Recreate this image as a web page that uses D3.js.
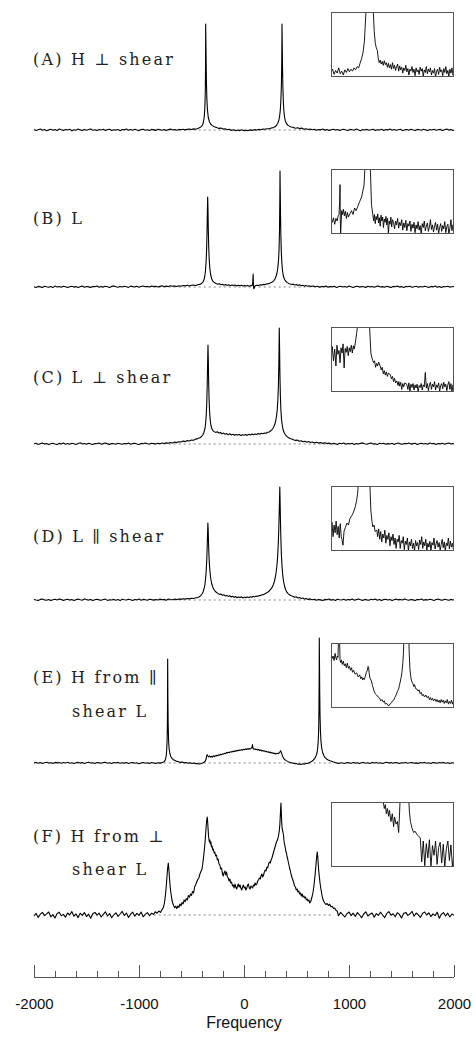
<!DOCTYPE html>
<html><head><meta charset="utf-8">
<script src="https://cdn.jsdelivr.net/npm/d3@7"></script>
<style>
html,body{margin:0;padding:0;background:#fff;}
svg{display:block;}
</style></head><body>
<svg id="chart" width="476" height="1045"></svg>
<script>
// ---- Spectra: [frequency, intensity (a.u.)] ----
const specA = [[-2000,0.4],[-1980,-0.5],[-1960,0.2],[-1940,0.9],[-1920,-0.3],[-1900,0.5],[-1880,-0.8],[-1860,0.1],[-1840,0.7],[-1820,-0.2],[-1800,0.4],[-1780,-0.6],[-1760,1.0],[-1740,0.2],[-1720,-0.4],[-1700,0.6],[-1680,-0.1],[-1660,0.8],[-1640,-0.7],[-1620,0.3],[-1600,-0.2],[-1580,0.9],[-1560,0.1],[-1540,-0.5],[-1520,0.6],[-1500,-0.3],[-1480,0.4],[-1460,1.1],[-1440,-0.2],[-1420,0.3],[-1400,-0.6],[-1380,0.5],[-1360,0.0],[-1340,0.8],[-1320,-0.4],[-1300,0.2],[-1280,0.7],[-1260,-0.5],[-1240,0.3],[-1220,-0.1],[-1200,0.6],[-1180,-0.7],[-1160,0.4],[-1140,0.1],[-1120,0.9],[-1100,-0.3],[-1080,0.5],[-1060,-0.2],[-1040,0.7],[-1020,0.0],[-1000,-0.6],[-980,0.4],[-960,0.8],[-940,-0.3],[-920,0.2],[-900,-0.5],[-880,0.6],[-860,0.1],[-840,-0.4],[-820,0.7],[-800,0.3],[-780,-0.2],[-760,0.5],[-740,-0.6],[-720,0.4],[-700,0.9],[-680,0.0],[-660,0.5],[-640,-0.3],[-620,0.6],[-600,0.2],[-580,0.8],[-560,0.1],[-540,0.6],[-520,1.0],[-500,0.5],[-480,1.1],[-460,0.8],[-440,1.6],[-420,2.4],[-405,3.6],[-395,5],[-387,7.5],[-380,12],[-375,18],[-371,28],[-368,42],[-366,70],[-365,106],[-363,90],[-360,64],[-357,44],[-353,30],[-348,20],[-340,12.5],[-330,8.5],[-318,6],[-305,4.6],[-290,3.6],[-275,3.0],[-260,2.4],[-240,1.6],[-220,1.9],[-200,0.9],[-180,1.2],[-160,0.3],[-140,0.7],[-120,-0.4],[-100,0.2],[-80,-0.7],[-60,0.0],[-40,-0.6],[-20,0.3],[0,-0.8],[20,-0.2],[40,-0.6],[60,0.1],[80,-0.4],[100,0.4],[120,-0.1],[140,0.6],[160,0.3],[180,1.0],[200,0.7],[220,1.3],[240,1.2],[260,2.0],[280,2.4],[295,3.2],[308,4.5],[320,6.5],[330,9],[338,13],[345,19],[350,27],[354,38],[357,50],[360,72],[362,106],[364,88],[367,62],[370,44],[374,30],[379,20],[386,13],[395,8.5],[407,6],[420,4.6],[435,3.6],[450,3.0],[470,2.6],[490,1.8],[510,2.2],[530,1.4],[550,1.9],[570,0.8],[590,1.3],[610,0.5],[630,1.0],[650,0.2],[670,0.8],[690,-0.3],[710,0.5],[730,0.1],[750,0.9],[770,-0.2],[790,0.4],[810,-0.6],[830,0.3],[850,0.7],[870,-0.1],[890,0.5],[910,-0.4],[930,0.2],[950,0.8],[970,0.0],[990,-0.5],[1010,0.6],[1030,0.2],[1050,-0.3],[1070,0.9],[1090,0.1],[1110,-0.7],[1130,0.4],[1150,0.0],[1170,0.6],[1190,-0.2],[1210,0.3],[1230,0.8],[1250,-0.4],[1270,0.2],[1290,-0.1],[1310,0.7],[1330,-0.5],[1350,0.4],[1370,0.1],[1390,0.9],[1410,-0.3],[1430,0.5],[1450,-0.2],[1470,0.3],[1490,0.8],[1510,-0.6],[1530,0.1],[1550,0.5],[1570,-0.2],[1590,0.7],[1610,0.0],[1630,-0.4],[1650,0.6],[1670,0.2],[1690,-0.3],[1710,0.8],[1730,0.1],[1750,-0.5],[1770,0.4],[1790,0.0],[1810,0.7],[1830,-0.3],[1850,0.2],[1870,0.6],[1890,-0.4],[1910,0.3],[1930,0.9],[1950,-0.1],[1970,0.4],[1990,-0.5],[2000,0.1]];

const specB = [[-2000,0.3],[-1980,-0.4],[-1960,0.6],[-1940,0.1],[-1920,-0.5],[-1900,0.8],[-1880,0.2],[-1860,-0.2],[-1840,0.5],[-1820,-0.6],[-1800,0.9],[-1780,0.0],[-1760,0.4],[-1740,-0.3],[-1720,0.7],[-1700,0.2],[-1680,-0.6],[-1660,0.3],[-1640,0.8],[-1620,-0.1],[-1600,0.4],[-1580,-0.5],[-1560,0.2],[-1540,0.9],[-1520,-0.2],[-1500,0.5],[-1480,0.1],[-1460,-0.4],[-1440,0.6],[-1420,0.2],[-1400,1.0],[-1380,-0.3],[-1360,0.4],[-1340,-0.1],[-1320,0.7],[-1300,0.3],[-1280,-0.5],[-1260,0.6],[-1240,1.1],[-1220,0.2],[-1200,-0.2],[-1180,0.5],[-1160,0.0],[-1140,0.8],[-1120,0.3],[-1100,-0.4],[-1080,0.9],[-1060,0.4],[-1040,0.1],[-1020,0.7],[-1000,-0.3],[-980,0.5],[-960,1.0],[-940,0.2],[-920,0.6],[-900,-0.1],[-880,1.1],[-860,0.4],[-840,0.8],[-820,0.0],[-800,0.6],[-780,1.2],[-760,0.3],[-740,0.9],[-720,0.5],[-700,1.3],[-680,0.7],[-660,1.1],[-640,0.4],[-620,1.2],[-600,0.8],[-580,1.5],[-560,1.1],[-540,1.8],[-520,1.0],[-500,1.7],[-480,2.0],[-460,1.5],[-440,2.3],[-420,2.6],[-405,3.4],[-392,4.8],[-382,7],[-374,10.5],[-367,16],[-361,25],[-356,38],[-352,55],[-349,75],[-346,90],[-343,78],[-340,58],[-336,40],[-331,27],[-325,18],[-317,12],[-307,8],[-295,5.6],[-280,4.2],[-265,3.4],[-250,2.8],[-235,3.2],[-220,2.2],[-205,2.7],[-190,1.8],[-175,2.4],[-160,1.6],[-145,2.2],[-130,1.3],[-115,2.0],[-100,1.4],[-85,1.9],[-70,1.1],[-55,1.8],[-40,1.2],[-25,1.7],[-10,0.9],[5,1.6],[20,1.0],[35,1.5],[50,0.8],[65,1.6],[75,1.2],[82,2.5],[85,9],[87,13],[89,6],[91,0],[93,-1.8],[96,-1.4],[100,0.6],[110,1.4],[125,1.8],[140,1.4],[155,2.3],[170,1.9],[185,2.6],[200,2.4],[215,3.1],[230,3.0],[245,3.8],[260,4.4],[272,5.2],[284,6.4],[295,8],[305,10.5],[314,14],[322,19],[329,27],[334,38],[338,56],[341,85],[343,116],[345,98],[348,72],[351,52],[355,36],[360,25],[366,17],[374,11.5],[384,8],[396,6],[410,4.6],[425,3.6],[440,3.0],[455,2.5],[470,2.9],[485,1.9],[500,2.4],[515,1.6],[530,2.2],[545,1.3],[560,1.8],[575,0.9],[590,1.5],[605,0.8],[620,1.3],[640,0.6],[660,1.0],[680,0.3],[700,0.8],[720,-0.2],[740,0.6],[760,0.2],[780,0.9],[800,-0.3],[820,0.5],[840,0.1],[860,0.7],[880,-0.4],[900,0.3],[920,0.8],[940,0.0],[960,0.5],[980,-0.2],[1000,0.9],[1020,0.2],[1040,-0.5],[1060,0.4],[1080,0.7],[1100,-0.1],[1120,0.5],[1140,0.2],[1160,-0.4],[1180,0.8],[1200,0.1],[1220,0.5],[1240,-0.3],[1260,0.6],[1280,1.0],[1300,0.0],[1320,0.4],[1340,-0.2],[1360,0.7],[1380,0.1],[1400,-0.5],[1420,0.6],[1440,0.3],[1460,0.9],[1480,-0.1],[1500,0.4],[1520,-0.4],[1540,0.6],[1560,0.2],[1580,0.8],[1600,-0.2],[1620,0.3],[1640,0.7],[1660,-0.3],[1680,0.5],[1700,0.0],[1720,0.8],[1740,0.3],[1760,-0.4],[1780,0.6],[1800,0.1],[1820,0.9],[1840,-0.2],[1860,0.4],[1880,-0.6],[1900,0.5],[1920,0.2],[1940,0.8],[1960,-0.1],[1980,0.3],[2000,0.5]];

const specC = [[-2000,0.2],[-1980,0.7],[-1960,-0.4],[-1940,0.3],[-1920,0.9],[-1900,-0.1],[-1880,0.5],[-1860,-0.6],[-1840,0.2],[-1820,0.8],[-1800,0.0],[-1780,-0.4],[-1760,0.6],[-1740,0.1],[-1720,1.0],[-1700,-0.3],[-1680,0.4],[-1660,-0.2],[-1640,0.7],[-1620,0.2],[-1600,-0.5],[-1580,0.5],[-1560,1.2],[-1540,0.0],[-1520,0.4],[-1500,-0.3],[-1480,0.8],[-1460,0.1],[-1440,-0.6],[-1420,0.5],[-1400,0.2],[-1380,0.9],[-1360,-0.2],[-1340,0.4],[-1320,1.0],[-1300,0.1],[-1280,-0.4],[-1260,0.6],[-1240,0.2],[-1220,-0.3],[-1200,0.8],[-1180,0.3],[-1160,-0.2],[-1140,0.5],[-1120,0.1],[-1100,0.9],[-1080,-0.3],[-1060,0.4],[-1040,0.7],[-1020,0.0],[-1000,-0.5],[-980,0.6],[-960,0.2],[-940,0.9],[-920,0.3],[-900,-0.1],[-880,0.8],[-860,0.4],[-840,0.0],[-820,0.7],[-800,0.3],[-780,1.0],[-760,0.5],[-740,1.1],[-720,0.8],[-700,1.5],[-680,1.0],[-660,1.9],[-640,1.4],[-620,2.3],[-600,2.0],[-580,2.9],[-560,2.4],[-540,3.4],[-520,3.0],[-500,4.0],[-480,3.8],[-460,4.9],[-440,5.4],[-420,6.2],[-405,7.5],[-393,9],[-382,11.5],[-373,15],[-366,20],[-360,28],[-355,40],[-351,56],[-347,78],[-343,99],[-340,85],[-337,64],[-333,46],[-328,33],[-322,24],[-314,18],[-305,15],[-295,13.2],[-283,12.4],[-270,11.6],[-255,12.2],[-240,11.0],[-225,11.5],[-210,10.3],[-195,10.9],[-180,9.8],[-165,10.4],[-150,9.3],[-135,10.2],[-120,9.0],[-105,9.7],[-90,8.7],[-75,9.6],[-60,8.9],[-45,9.4],[-30,8.5],[-15,9.3],[0,8.8],[15,9.5],[30,8.6],[45,9.8],[60,9.1],[75,10.0],[90,9.2],[105,10.1],[120,9.6],[135,10.5],[150,9.8],[165,10.7],[180,10.2],[195,11.0],[210,10.8],[225,11.8],[240,12.0],[252,13.0],[264,14.2],[275,15.5],[285,17.5],[294,20],[302,23],[310,28],[317,35],[323,45],[328,60],[332,82],[336,116],[339,95],[342,70],[346,50],[351,35],[357,25],[364,19],[372,14.5],[382,11.5],[394,9.2],[408,7.6],[422,6.4],[438,5.5],[455,4.9],[472,4.2],[490,3.6],[508,3.9],[526,2.8],[544,3.3],[562,2.2],[580,2.8],[598,1.8],[616,2.4],[634,1.4],[652,2.0],[670,1.1],[690,1.7],[710,0.9],[730,1.5],[750,0.6],[770,1.2],[790,0.4],[810,0.9],[830,-0.1],[850,0.6],[870,0.2],[890,-0.4],[910,0.7],[930,0.3],[950,1.0],[970,-0.2],[990,0.5],[1010,0.1],[1030,0.8],[1050,-0.5],[1070,0.4],[1090,0.0],[1110,0.6],[1130,1.1],[1150,0.2],[1170,-0.3],[1190,0.5],[1210,0.9],[1230,-0.1],[1250,0.3],[1270,-0.6],[1290,0.7],[1310,0.2],[1330,0.8],[1350,-0.2],[1370,0.4],[1390,0.0],[1410,0.7],[1430,-0.4],[1450,0.5],[1470,1.0],[1490,0.1],[1510,-0.3],[1530,0.6],[1550,0.2],[1570,0.9],[1590,-0.1],[1610,0.4],[1630,0.8],[1650,-0.5],[1670,0.3],[1690,0.7],[1710,0.0],[1730,0.5],[1750,-0.3],[1770,0.9],[1790,0.2],[1810,0.6],[1830,-0.4],[1850,0.4],[1870,0.1],[1890,0.8],[1910,-0.2],[1930,0.5],[1950,0.9],[1970,0.0],[1990,0.4],[2000,-0.1]];

const specD = [[-2000,0.5],[-1980,0.0],[-1960,-0.4],[-1940,0.6],[-1920,0.9],[-1900,0.1],[-1880,-0.3],[-1860,0.5],[-1840,-0.6],[-1820,0.3],[-1800,0.7],[-1780,0.0],[-1760,1.0],[-1740,0.4],[-1720,-0.4],[-1700,0.2],[-1680,0.8],[-1660,-0.1],[-1640,0.5],[-1620,-0.5],[-1600,0.3],[-1580,0.9],[-1560,0.2],[-1540,-0.3],[-1520,1.1],[-1500,0.4],[-1480,-0.1],[-1460,0.6],[-1440,-0.6],[-1420,0.2],[-1400,0.7],[-1380,0.1],[-1360,-0.2],[-1340,0.5],[-1320,0.9],[-1300,-0.4],[-1280,0.3],[-1260,0.0],[-1240,0.6],[-1220,-0.3],[-1200,0.4],[-1180,-0.6],[-1160,0.7],[-1140,0.2],[-1120,0.0],[-1100,0.8],[-1080,0.3],[-1060,-0.4],[-1040,0.5],[-1020,0.1],[-1000,0.9],[-980,-0.2],[-960,0.6],[-940,0.2],[-920,-0.3],[-900,0.7],[-880,0.4],[-860,-0.1],[-840,0.5],[-820,0.0],[-800,0.9],[-780,0.3],[-760,0.6],[-740,-0.2],[-720,1.0],[-700,0.5],[-680,0.2],[-660,0.9],[-640,0.4],[-620,1.1],[-600,0.6],[-580,1.2],[-560,0.9],[-540,1.5],[-520,1.1],[-500,1.7],[-480,1.5],[-460,2.2],[-440,2.4],[-425,3.2],[-412,4.4],[-400,6],[-390,8],[-381,11],[-373,15],[-366,21],[-360,29],[-355,39],[-351,52],[-347,66],[-344,77],[-341,70],[-338,58],[-334,45],[-329,35],[-323,27],[-316,21],[-308,16.5],[-298,13],[-287,10.5],[-275,8.8],[-262,7.5],[-248,6.6],[-234,5.6],[-220,6.0],[-206,4.8],[-192,5.2],[-178,4.1],[-164,4.6],[-150,3.6],[-136,4.2],[-122,3.0],[-108,3.8],[-94,2.6],[-80,3.4],[-66,2.2],[-52,3.1],[-38,2.4],[-24,3.2],[-10,2.0],[4,2.9],[18,2.2],[32,3.1],[46,2.4],[60,3.3],[74,2.8],[88,3.7],[102,3.1],[116,4.0],[130,3.6],[144,4.5],[158,4.4],[172,5.2],[186,5.4],[200,6.3],[214,7.0],[228,8.0],[242,9.2],[255,10.8],[267,12.6],[278,15],[288,18],[297,22],[305,27],[313,34],[320,43],[326,55],[331,70],[335,86],[338,100],[341,113],[344,98],[347,80],[351,62],[356,46],[362,34],[369,25],[377,18.5],[386,14],[396,10.5],[407,8.2],[420,6.4],[434,5.2],[449,4.2],[465,3.8],[481,2.8],[497,3.2],[513,2.0],[529,2.6],[545,1.4],[561,2.0],[577,0.9],[593,1.6],[610,0.6],[630,1.1],[650,0.3],[670,0.8],[690,-0.2],[710,0.5],[730,0.1],[750,-0.5],[770,0.6],[790,0.2],[810,0.9],[830,-0.1],[850,0.4],[870,-0.4],[890,0.7],[910,0.2],[930,0.0],[950,0.8],[970,-0.3],[990,0.5],[1010,0.1],[1030,0.9],[1050,-0.2],[1070,0.4],[1090,1.0],[1110,0.2],[1130,-0.4],[1150,0.6],[1170,0.1],[1190,-0.3],[1210,0.7],[1230,0.3],[1250,0.9],[1270,-0.2],[1290,0.5],[1310,-0.6],[1330,0.4],[1350,0.8],[1370,0.0],[1390,0.5],[1410,-0.4],[1430,0.3],[1450,0.9],[1470,0.1],[1490,0.6],[1510,-0.1],[1530,1.0],[1550,0.3],[1570,-0.3],[1590,0.5],[1610,0.1],[1630,-0.5],[1650,0.6],[1670,0.2],[1690,0.9],[1710,-0.2],[1730,0.4],[1750,0.0],[1770,0.8],[1790,0.3],[1810,-0.4],[1830,0.5],[1850,0.9],[1870,0.1],[1890,-0.2],[1910,0.7],[1930,0.3],[1950,-0.3],[1970,0.6],[1990,0.0],[2000,0.3]];

const specE = [[-2000,0.1],[-1980,0.6],[-1960,-0.2],[-1940,0.4],[-1920,-0.5],[-1900,0.3],[-1880,0.7],[-1860,-0.1],[-1840,0.2],[-1820,-0.4],[-1800,0.6],[-1780,0.1],[-1760,0.4],[-1740,-0.3],[-1720,0.5],[-1700,0.0],[-1680,0.7],[-1660,-0.2],[-1640,0.3],[-1620,-0.6],[-1600,0.2],[-1580,0.6],[-1560,-0.1],[-1540,0.4],[-1520,-0.4],[-1500,0.3],[-1480,0.8],[-1460,0.0],[-1440,0.3],[-1420,-0.5],[-1400,0.5],[-1380,0.1],[-1360,-0.3],[-1340,0.4],[-1320,0.7],[-1300,-0.2],[-1280,0.2],[-1260,-0.5],[-1240,0.4],[-1220,0.0],[-1200,0.6],[-1180,-0.3],[-1160,0.3],[-1140,-0.1],[-1120,0.5],[-1100,-0.6],[-1080,0.2],[-1060,0.4],[-1040,-0.2],[-1020,0.3],[-1000,-0.7],[-980,0.1],[-960,0.5],[-940,-0.3],[-920,0.2],[-900,-0.4],[-880,0.4],[-860,0.0],[-840,-0.5],[-820,0.3],[-800,-0.1],[-780,0.4],[-765,0.9],[-755,2],[-747,3.8],[-741,7],[-736,13],[-732,24],[-729,45],[-727,104],[-725,66],[-722,38],[-718,22],[-713,14],[-706,9.5],[-697,6.5],[-686,4.6],[-672,3.2],[-656,2.4],[-640,1.6],[-622,1.3],[-604,0.6],[-586,0.9],[-568,0.1],[-550,0.5],[-532,-0.3],[-514,0.2],[-496,-0.5],[-478,0.0],[-460,-0.8],[-442,-0.4],[-424,-1.0],[-406,-0.5],[-390,0.3],[-378,1.0],[-368,2.0],[-360,4.5],[-355,7.5],[-350,8.2],[-344,7.0],[-337,6.2],[-329,7.0],[-320,5.8],[-311,6.6],[-302,5.9],[-293,7.2],[-284,6.4],[-275,7.4],[-266,6.8],[-257,7.9],[-248,7.3],[-239,8.3],[-230,7.9],[-221,8.8],[-212,8.3],[-203,9.2],[-194,8.9],[-185,9.7],[-176,9.4],[-167,10.4],[-158,10.0],[-149,10.8],[-140,10.3],[-131,11.2],[-122,10.8],[-113,11.6],[-104,11.2],[-95,12.0],[-86,11.5],[-77,12.4],[-68,12.0],[-59,12.8],[-50,12.3],[-41,13.1],[-32,12.7],[-23,13.4],[-14,12.9],[-5,13.7],[4,13.2],[13,14.0],[22,13.5],[31,14.3],[40,13.8],[49,14.5],[58,13.9],[67,14.6],[74,15.2],[78,17],[81,18.5],[84,15.5],[88,14.3],[96,13.6],[105,14.2],[114,13.3],[123,13.8],[132,12.9],[141,13.4],[150,12.5],[159,13.0],[168,12.1],[177,12.6],[186,11.8],[195,12.2],[204,11.3],[213,11.8],[222,10.9],[231,11.3],[240,10.4],[249,10.9],[258,10.0],[267,10.4],[276,9.6],[285,10.0],[294,9.1],[303,9.6],[312,9.2],[320,9.8],[328,9.4],[335,10.2],[342,11.0],[348,12.2],[353,11.3],[358,9.8],[364,7.8],[371,6.0],[380,4.4],[390,3.2],[402,2.4],[415,1.6],[428,1.0],[442,0.5],[456,0.1],[470,-0.3],[485,-0.8],[500,-0.5],[515,-1.2],[530,-0.9],[545,-1.4],[560,-0.8],[575,-1.1],[590,-0.4],[605,-0.5],[620,0.3],[634,0.9],[647,1.8],[659,2.8],[670,4.0],[680,5.6],[689,7.8],[696,10.5],[702,15],[707,22],[711,33],[714,55],[716,90],[717,125],[719,100],[721,72],[724,48],[728,32],[733,22],[740,15],[749,10.5],[760,7.5],[773,5.4],[787,4.0],[802,3.0],[818,2.2],[834,1.8],[850,1.0],[866,0.6],[880,0.1],[900,-0.4],[920,0.3],[940,0.0],[960,-0.5],[980,0.4],[1000,0.1],[1020,-0.3],[1040,0.5],[1060,-0.1],[1080,0.3],[1100,-0.6],[1120,0.2],[1140,0.5],[1160,-0.2],[1180,0.3],[1200,-0.4],[1220,0.6],[1240,0.0],[1260,0.4],[1280,-0.3],[1300,0.2],[1320,-0.6],[1340,0.3],[1360,0.7],[1380,-0.1],[1400,0.4],[1420,-0.3],[1440,0.5],[1460,0.1],[1480,-0.5],[1500,0.3],[1520,0.0],[1540,0.6],[1560,-0.2],[1580,0.2],[1600,0.5],[1620,-0.3],[1640,0.1],[1660,-0.4],[1680,0.4],[1700,0.0],[1720,0.6],[1740,-0.2],[1760,0.3],[1780,-0.5],[1800,0.5],[1820,0.1],[1840,-0.3],[1860,0.4],[1880,0.0],[1900,0.6],[1920,-0.2],[1940,0.2],[1960,-0.4],[1980,0.3],[2000,0.0]];

const specF = [[-2000,-1.0],[-1980,1.6],[-1960,-2.4],[-1940,0.8],[-1920,2.6],[-1900,-0.6],[-1880,1.2],[-1860,3.0],[-1840,-1.8],[-1820,0.4],[-1800,-3.0],[-1780,1.4],[-1760,2.8],[-1740,-0.8],[-1720,0.6],[-1700,-2.2],[-1680,2.0],[-1660,0.0],[-1640,3.4],[-1620,-1.2],[-1600,1.0],[-1580,-2.6],[-1560,1.8],[-1540,-0.4],[-1520,2.4],[-1500,-1.6],[-1480,0.8],[-1460,-3.2],[-1440,1.2],[-1420,2.6],[-1400,-0.2],[-1380,1.8],[-1360,-2.0],[-1340,0.6],[-1320,3.2],[-1300,-1.0],[-1280,1.4],[-1260,-2.8],[-1240,0.2],[-1220,2.2],[-1200,-1.4],[-1180,1.0],[-1160,3.6],[-1140,-0.6],[-1120,2.0],[-1100,-2.4],[-1080,0.8],[-1060,2.8],[-1040,-1.2],[-1020,1.6],[-1000,-0.4],[-980,3.0],[-960,-1.8],[-940,0.6],[-920,2.4],[-900,-0.8],[-880,1.8],[-862,0.6],[-845,3.2],[-828,1.8],[-811,4.0],[-795,2.6],[-780,5.4],[-768,7.5],[-758,12],[-749,19],[-741,28],[-734,38],[-727,47],[-721,52],[-715,45],[-709,36],[-703,28],[-696,22],[-688,16],[-679,12],[-670,9.5],[-660,7.2],[-650,8.8],[-640,6.4],[-630,9.0],[-620,7.6],[-610,11],[-600,9.2],[-590,12.5],[-580,11.2],[-570,15],[-560,13.4],[-550,16.4],[-540,15],[-530,19.5],[-520,17.8],[-510,21],[-500,19.6],[-490,23.5],[-480,22.2],[-470,28],[-460,30.4],[-450,33],[-440,35.5],[-430,37],[-420,41],[-410,43.5],[-400,46],[-392,52],[-385,58],[-378,65],[-371,73],[-365,82],[-360,89],[-355,95],[-350,98],[-346,93],[-342,86],[-338,79],[-334,76],[-330,73],[-325,75],[-320,71],[-315,73],[-310,68],[-304,69],[-298,65],[-292,66],[-285,62],[-278,63],[-270,59],[-262,60],[-254,55],[-246,56],[-238,51],[-230,50],[-222,46],[-214,47],[-206,42],[-198,39],[-190,42],[-182,44],[-174,40],[-166,43],[-158,38],[-150,37],[-142,34],[-134,36],[-126,32],[-118,33],[-110,29],[-102,30],[-94,27],[-86,31],[-78,28],[-70,26],[-62,29],[-54,31],[-46,28],[-38,30],[-30,27],[-22,25],[-14,28],[-6,30],[2,27],[10,28],[18,25],[26,27],[34,30],[42,31],[50,27],[58,26],[66,29],[74,28],[82,27],[90,30],[98,29],[106,32],[114,30],[122,31],[130,34],[138,35],[146,37],[154,36],[162,39],[170,41],[178,38],[186,40],[194,43],[202,45],[210,44],[218,48],[226,47],[234,51],[242,53],[250,52],[258,55],[266,57],[274,60],[282,63],[290,66],[298,69],[306,72],[314,74],[322,76],[330,80],[336,84],[341,90],[345,98],[349,106],[352,112],[355,104],[358,95],[362,88],[366,85],[371,83],[376,80],[381,74],[386,71],[392,68],[398,64],[404,62],[411,58],[418,55],[426,51],[434,47],[442,44],[450,40],[458,37],[466,35],[474,32],[482,29],[490,28],[498,25],[506,26],[514,23],[522,24],[530,21],[538,22],[546,19],[554,21],[562,18],[570,19],[578,17],[586,18],[594,15],[602,16],[610,14],[618,15],[626,12],[634,13],[642,16],[650,19],[658,23],[666,29],[674,37],[682,46],[689,55],[695,61],[698,63],[702,59],[707,51],[712,44],[718,38],[724,32],[731,27],[739,22],[748,17],[758,14],[769,12],[780,10.5],[792,11.5],[804,9.5],[816,10.8],[828,8.2],[840,8.8],[852,6.4],[864,7.0],[876,4.6],[888,3.8],[900,-0.8],[920,2.6],[940,0.4],[960,-2.0],[980,1.2],[1000,3.0],[1020,-0.6],[1040,1.8],[1060,-1.4],[1080,2.4],[1100,0.2],[1120,-2.8],[1140,1.0],[1160,3.2],[1180,-1.0],[1200,0.8],[1220,2.0],[1240,-2.2],[1260,1.4],[1280,-0.4],[1300,2.8],[1320,0.0],[1340,-2.6],[1360,1.6],[1380,3.4],[1400,-0.2],[1420,1.2],[1440,-1.8],[1460,2.2],[1480,0.6],[1500,-3.0],[1520,1.4],[1540,2.6],[1560,-0.4],[1580,1.0],[1600,3.6],[1620,-1.2],[1640,2.0],[1660,0.2],[1680,-2.4],[1700,1.6],[1720,3.0],[1740,0.0],[1760,2.2],[1780,-1.6],[1800,1.2],[1820,-0.6],[1840,2.8],[1860,-3.2],[1880,0.8],[1900,2.4],[1920,-1.0],[1940,1.8],[1960,-2.0],[1980,1.0],[2000,-0.4]];

// ---- Magnified insets: [frequency 0–1200, percent of inset height] ----
const insetA = [[0,8],[15,12],[30,4],[45,10],[60,6],[75,14],[90,5],[105,9],[120,3],[135,11],[150,7],[165,13],[180,8],[195,12],[210,9],[225,14],[240,11],[255,16],[270,14],[283,21],[298,28],[312,37],[326,55],[341,100],[355,180],[380,230],[405,180],[413,100],[422,70],[432,52],[442,45],[452,41],[460,30],[470,22],[480,26],[490,20],[500,24],[510,18],[520,25],[530,19],[540,22],[550,15],[560,21],[570,14],[580,19],[590,12],[600,22],[610,13],[620,18],[630,10],[640,16],[650,20],[660,9],[670,17],[680,11],[690,15],[700,6],[710,14],[720,10],[730,18],[740,8],[750,13],[760,3],[770,12],[780,9],[790,16],[800,7],[810,12],[820,2],[830,14],[840,8],[850,11],[860,4],[870,15],[880,9],[890,13],[900,1],[910,11],[920,7],[930,16],[940,5],[950,12],[960,8],[970,14],[980,3],[990,10],[1000,6],[1010,13],[1020,0],[1030,9],[1040,12],[1050,4],[1060,15],[1070,8],[1080,11],[1090,2],[1100,13],[1110,7],[1120,16],[1130,5],[1140,10],[1150,1],[1160,12],[1170,6],[1180,14],[1190,3],[1200,9]];

const insetB = [[0,22],[12,18],[24,25],[36,15],[48,24],[60,20],[70,28],[78,30],[84,50],[88,76],[91,20],[94,0],[97,10],[104,36],[112,30],[121,38],[130,28],[140,35],[150,24],[160,33],[170,26],[185,31],[200,36],[215,30],[230,40],[245,36],[263,43],[280,50],[299,57],[310,66],[322,74],[332,105],[350,200],[372,160],[385,95],[395,45],[407,31],[416,20],[424,30],[432,16],[440,27],[448,22],[456,31],[464,17],[472,25],[480,12],[488,29],[496,20],[504,26],[512,10],[520,23],[528,18],[536,27],[544,14],[552,24],[560,0],[568,20],[576,15],[584,26],[592,11],[600,22],[610,18],[620,8],[630,20],[640,14],[650,24],[660,9],[670,18],[680,13],[690,22],[700,6],[710,17],[720,10],[730,21],[740,5],[750,16],[760,12],[770,20],[780,4],[790,15],[800,9],[810,18],[820,2],[830,14],[840,8],[850,19],[860,6],[870,13],[880,0],[890,16],[900,10],[910,20],[920,5],[930,12],[940,17],[950,4],[960,11],[970,22],[980,7],[990,14],[1000,3],[1010,12],[1020,18],[1030,6],[1040,15],[1050,1],[1060,10],[1070,16],[1080,4],[1090,13],[1100,8],[1110,19],[1120,2],[1130,11],[1140,15],[1150,0],[1160,9],[1170,22],[1180,5],[1190,14],[1200,10]];

const insetC = [[0,55],[12,70],[24,48],[36,66],[48,40],[58,72],[68,58],[78,64],[88,45],[98,68],[108,60],[118,74],[128,37],[138,67],[148,61],[158,70],[168,56],[178,68],[188,62],[198,72],[208,60],[218,71],[226,66],[237,75],[250,90],[261,105],[290,180],[340,190],[375,105],[389,60],[400,52],[415,45],[425,48],[435,38],[445,44],[455,40],[465,46],[480,40],[490,34],[500,38],[510,28],[520,33],[530,26],[540,31],[550,24],[560,29],[578,27],[590,20],[600,24],[610,16],[620,21],[630,14],[642,17],[654,10],[662,16],[670,9],[680,15],[690,4],[700,13],[710,8],[720,14],[739,12],[750,4],[760,14],[770,0],[780,12],[790,7],[800,13],[810,3],[820,11],[830,6],[840,12],[850,0],[860,10],[870,7],[880,13],[890,3],[900,11],[910,8],[920,30],[930,6],[940,13],[950,2],[960,11],[970,15],[980,4],[990,12],[1000,8],[1010,16],[1020,3],[1030,11],[1040,7],[1050,14],[1060,1],[1070,10],[1080,13],[1090,5],[1100,15],[1110,8],[1120,12],[1130,2],[1140,11],[1150,16],[1160,4],[1170,13],[1180,0],[1190,11],[1200,7]];

const insetD = [[0,30],[10,44],[20,22],[30,40],[40,28],[50,46],[60,25],[70,38],[80,20],[90,42],[100,22],[107,18],[117,9],[127,30],[140,36],[156,43],[170,40],[185,50],[205,55],[220,60],[237,68],[250,78],[260,89],[270,110],[300,190],[340,200],[377,110],[389,63],[400,45],[408,37],[420,40],[430,30],[447,32],[455,22],[465,34],[475,18],[485,30],[495,14],[505,26],[515,20],[525,32],[535,12],[545,24],[555,18],[565,28],[575,8],[585,22],[595,16],[605,26],[615,10],[625,20],[635,4],[645,18],[655,14],[665,24],[675,4],[685,16],[695,12],[705,22],[715,2],[725,15],[735,10],[745,20],[755,0],[765,14],[775,8],[785,18],[795,4],[805,12],[815,0],[825,16],[835,8],[845,13],[855,2],[865,17],[875,10],[885,22],[895,4],[905,14],[915,8],[925,18],[935,1],[945,12],[955,6],[965,15],[975,0],[985,13],[995,9],[1005,20],[1015,3],[1025,11],[1035,16],[1045,6],[1055,13],[1065,1],[1075,10],[1085,18],[1095,5],[1105,14],[1115,0],[1125,12],[1135,8],[1145,20],[1155,3],[1165,15],[1175,6],[1185,12],[1195,2],[1200,9]];

const insetE = [[0,82],[10,76],[20,80],[30,73],[40,84],[48,77],[55,74],[62,80],[68,78],[74,110],[78,200],[82,120],[88,74],[95,70],[102,74],[110,67],[120,72],[130,65],[140,68],[150,62],[160,69],[170,61],[180,64],[190,58],[200,62],[210,55],[221,58],[235,52],[250,54],[265,48],[280,51],[290,45],[300,48],[310,43],[318,46],[326,44],[335,49],[345,55],[355,58],[362,64],[367,62],[372,54],[380,46],[390,43],[397,40],[404,35],[410,32],[420,26],[432,22],[445,20],[460,17],[475,15],[485,11],[497,13],[510,9],[520,11],[530,6],[545,7],[562,3],[575,6],[590,8],[600,11],[611,12],[622,16],[635,20],[647,25],[659,29],[668,35],[675,40],[684,47],[692,55],[700,68],[706,82],[712,110],[730,250],[750,200],[757,120],[763,85],[770,60],[780,46],[790,40],[800,37],[808,33],[815,36],[825,30],[839,29],[850,26],[860,28],[870,22],[880,24],[890,19],[900,21],[912,17],[925,20],[937,16],[950,18],[960,13],[970,16],[980,12],[990,15],[1000,11],[1012,14],[1025,10],[1034,13],[1045,9],[1055,12],[1065,8],[1075,13],[1085,9],[1095,12],[1105,7],[1115,11],[1125,8],[1135,13],[1145,6],[1155,10],[1165,7],[1175,12],[1185,6],[1195,11],[1200,9]];

const insetF = [[0,400],[400,300],[470,200],[500,120],[510,100],[520,90],[530,96],[540,82],[550,90],[562,78],[570,87],[585,70],[598,82],[611,62],[620,77],[635,66],[648,70],[660,53],[668,80],[676,110],[690,200],[740,200],[757,110],[765,85],[775,70],[790,60],[806,53],[820,55],[839,50],[855,47],[871,45],[885,8],[900,40],[915,2],[930,36],[945,14],[960,42],[975,0],[990,33],[1005,18],[1020,40],[1035,4],[1050,30],[1065,38],[1080,6],[1095,35],[1110,0],[1125,28],[1140,40],[1155,10],[1170,34],[1185,0],[1200,24]];

const spectra = [specA, specB, specC, specD, specE, specF];
const insets = [insetA, insetB, insetC, insetD, insetE, insetF];

// ---- Text ----
const panelLabels = [
  ["(A) H \u22A5 shear"],
  ["(B) L"],
  ["(C) L \u22A5 shear"],
  ["(D) L \u2225 shear"],
  ["(E) H from \u2225", "shear L"],
  ["(F) H from \u22A5", "shear L"]
];
const majorTicks = [-2000, -1000, 0, 1000, 2000];
const minorTicks = [-1800,-1600,-1400,-1200,-800,-600,-400,-200,200,400,600,800,1200,1400,1600,1800];
const axisTitle = "Frequency";
const baselineSpan = [-860, 850];

// ---- Layout ----
const panelBase = [130, 287, 444, 600, 763, 915];
const labelY = [[65], [224], [383], [542], [683, 717], [842, 875]];
const insetTop = [12, 169, 327, 486, 643, 802];
const insetH = 65;
const axisY = 977;

const svg = d3.select("#chart");
const x = d3.scaleLinear().domain([-2000, 2000]).range([34, 454]);
const ix = d3.scaleLinear().domain([0, 1200]).range([331, 454]);

spectra.forEach((spec, i) => {
  const base = panelBase[i];
  const y = d3.scaleLinear().domain([0, 100]).range([base, base - 100]);
  const g = svg.append("g").attr("class", "panel");

  // dashed zero line under the spectrum
  g.append("line")
    .attr("x1", x(baselineSpan[0])).attr("x2", x(baselineSpan[1]))
    .attr("y1", y(0)).attr("y2", y(0))
    .attr("stroke", "#777").attr("stroke-width", 0.9)
    .attr("stroke-dasharray", "2,3");

  g.append("path")
    .datum(spec)
    .attr("fill", "none")
    .attr("stroke", "#000")
    .attr("stroke-width", 1.1)
    .attr("stroke-linejoin", "round")
    .attr("d", d3.line().x(d => x(d[0])).y(d => y(d[1])));

  // label
  const t = g.append("text")
    .attr("font-family", "'DejaVu Serif', serif")
    .attr("font-size", 16)
    .attr("letter-spacing", 2.2)
    .attr("fill", "#222");
  panelLabels[i].forEach((line, k) => {
    t.append("tspan")
      .attr("x", k === 0 ? 33 : 72)
      .attr("y", labelY[i][k])
      .text(line);
  });

  // magnified inset
  const top = insetTop[i];
  const iy = d3.scaleLinear().domain([0, 100]).range([top + insetH, top]);
  const clipId = "clip" + i;
  svg.append("clipPath").attr("id", clipId)
    .append("rect").attr("x", ix(0)).attr("y", top)
    .attr("width", ix(1200) - ix(0)).attr("height", insetH);
  g.append("path")
    .datum(insets[i])
    .attr("clip-path", `url(#${clipId})`)
    .attr("fill", "none")
    .attr("stroke", "#000")
    .attr("stroke-width", 0.9)
    .attr("stroke-linejoin", "round")
    .attr("d", d3.line().x(d => ix(d[0])).y(d => iy(d[1])));
  g.append("rect")
    .attr("x", ix(0) + 0.5).attr("y", top + 0.5)
    .attr("width", ix(1200) - ix(0) - 1).attr("height", insetH - 1)
    .attr("fill", "none").attr("stroke", "#555").attr("stroke-width", 1);
});

// ---- Frequency axis (ticks point upward) ----
const axisG = svg.append("g").attr("transform", `translate(0,${axisY})`);
axisG.call(d3.axisBottom(x).tickValues(minorTicks).tickSizeInner(-6).tickSizeOuter(0).tickFormat(""));
axisG.call(g2 => g2.select(".domain").remove());
const majorG = svg.append("g").attr("transform", `translate(0,${axisY})`);
majorG.call(d3.axisBottom(x).tickValues(majorTicks).tickSizeInner(-12).tickSizeOuter(0).tickPadding(21).tickFormat(d => String(d)));
svg.selectAll(".tick line").attr("stroke", "#555");
majorG.select(".domain").attr("stroke", "#555").attr("d", `M${x(-2000)},0.5H${x(2000)}`);
majorG.selectAll(".tick text")
  .attr("font-family", "'Liberation Sans', Arial, sans-serif")
  .attr("font-size", 15)
  .attr("fill", "#111");

svg.append("text")
  .attr("x", x(0)).attr("y", 1028)
  .attr("text-anchor", "middle")
  .attr("font-family", "'Liberation Sans', Arial, sans-serif")
  .attr("font-size", 16)
  .attr("fill", "#111")
  .text(axisTitle);
</script>
</body></html>
